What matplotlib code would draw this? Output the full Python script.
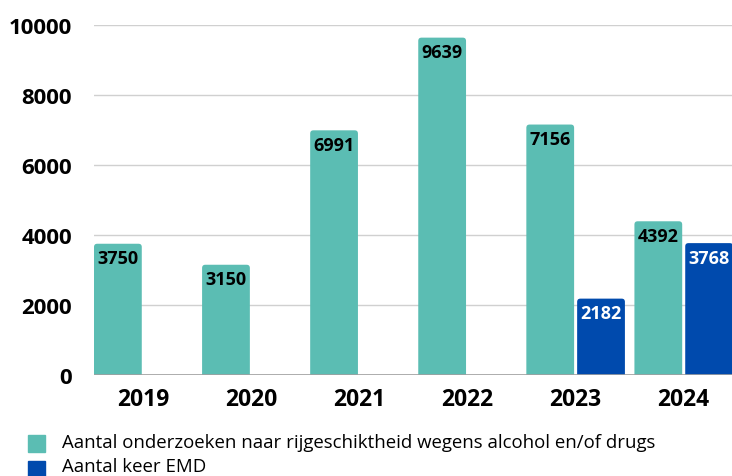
import matplotlib.pyplot as plt
from matplotlib.patches import FancyBboxPatch
import numpy as np

plt.rcParams['font.family'] = ['Open Sans', 'DejaVu Sans']

years = ['2019', '2020', '2021', '2022', '2023', '2024']
onderzoeken = [3750, 3150, 6991, 9639, 7156, 4392]
emd = [None, None, None, None, 2182, 3768]

teal = '#5bbdb3'
blue = '#004aad'

fig = plt.figure(figsize=(7.32, 4.77), dpi=100)
ax = fig.add_axes([94 / 732, 1 - 376 / 477, 639 / 732, 350 / 477])

x = np.arange(len(years))
w = 0.442
off = 0.235
# x units -> px / y units -> px, so the corners come out round
aspect = (639 / 5.912) / (350 / 10000)


def rounded_bar(cx, h, color):
    p = FancyBboxPatch((cx - w / 2, -300), w, h + 300,
                       boxstyle='round,pad=0,rounding_size=0.03',
                       mutation_aspect=aspect, facecolor=color, edgecolor='none', zorder=3)
    ax.add_patch(p)


for xi, v in zip(x, onderzoeken):
    rounded_bar(xi - off, v, teal)
    ax.annotate(str(v), (xi - off, v), xytext=(0, -4), textcoords='offset points',
                ha='center', va='top', fontsize=13, fontweight='bold', color='black', zorder=4)

for xi, v in zip(x, emd):
    if v is None:
        continue
    rounded_bar(xi + off, v, blue)
    ax.annotate(str(v), (xi + off, v), xytext=(0, -4), textcoords='offset points',
                ha='center', va='top', fontsize=13, fontweight='bold', color='white', zorder=4)

ax.set_xlim(-0.456, 5.456)
ax.set_ylim(0, 10000)
ax.set_yticks([0, 2000, 4000, 6000, 8000, 10000])
ax.set_xticks(x)
ax.set_xticklabels(years)
ax.tick_params(axis='y', length=0, pad=16, labelsize=16)
ax.tick_params(axis='x', length=0, pad=9, labelsize=16.5)
for lab in ax.get_xticklabels() + ax.get_yticklabels():
    lab.set_fontweight('bold')

ax.grid(axis='y', color='#d0d0d0', linewidth=1, zorder=0)
ax.axhline(0, color='#a0a0a0', linewidth=1.2, zorder=4)
for s in ax.spines.values():
    s.set_visible(False)

# legend
fig.patches.append(plt.Rectangle((28 / 732, 1 - 453 / 477), 17 / 732, 17 / 477,
                                 transform=fig.transFigure, color=teal))
fig.patches.append(plt.Rectangle((28 / 732, 1 - 479 / 477), 17 / 732, 17 / 477,
                                 transform=fig.transFigure, color=blue))
fig.text(62 / 732, 1 - 443 / 477, 'Aantal onderzoeken naar rijgeschiktheid wegens alcohol en/of drugs',
         va='center', fontsize=13.4)
fig.text(62 / 732, 1 - 467 / 477, 'Aantal keer EMD', va='center', fontsize=13.4)

fig.savefig('out.png', dpi=100)
